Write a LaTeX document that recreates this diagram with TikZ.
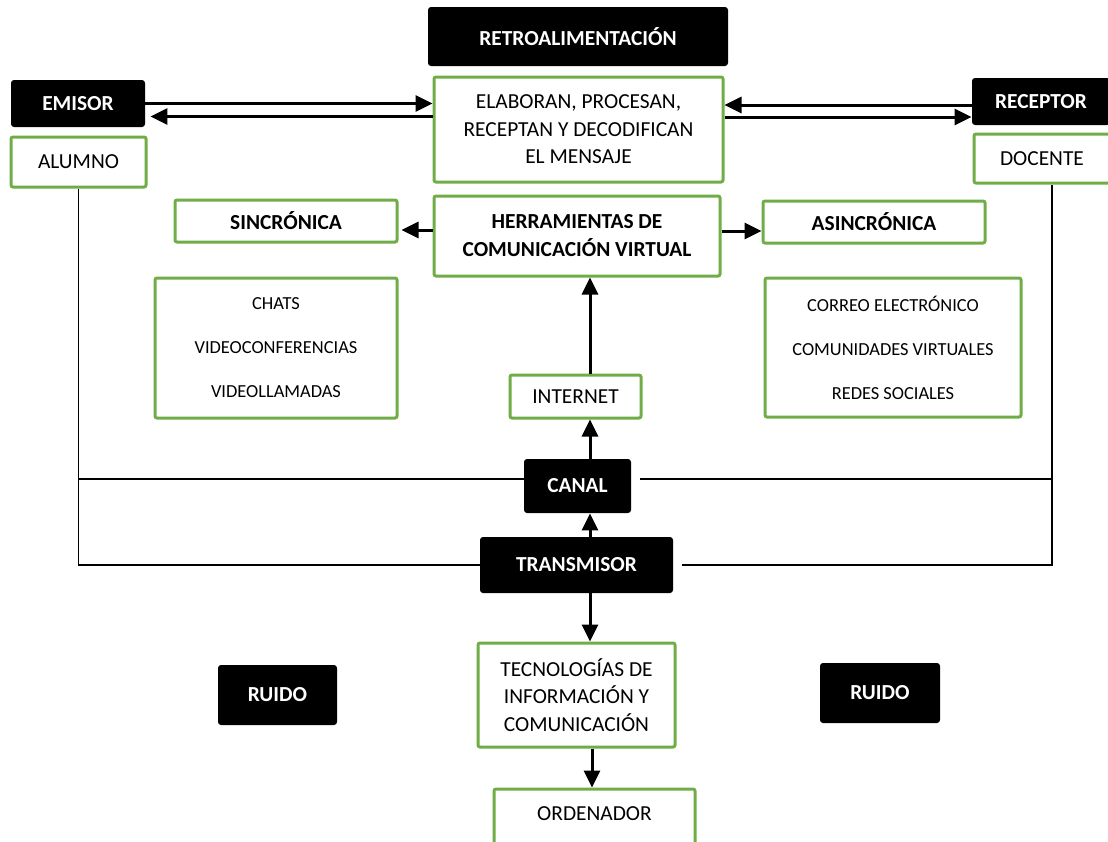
\documentclass[tikz,border=0pt]{standalone}
\usepackage{fontspec}
\setmainfont{Carlito}
\usetikzlibrary{arrows.meta}
\definecolor{boxgreen}{RGB}{112,173,71}
\tikzset{
  darkbox/.style={fill=black, text=white, rounded corners=1.5pt, inner sep=0pt, align=center,
    font=\fontsize{10.7}{14}\selectfont\bfseries},
  greenbox/.style={draw=boxgreen, line width=1.5pt, fill=white, rounded corners=1pt, inner sep=0pt,
    align=center, font=\fontsize{10.7}{13.75}\selectfont},
  headbox/.style={greenbox, font=\fontsize{10.7}{14}\selectfont\bfseries},
  listbox/.style={greenbox, font=\fontsize{9.2}{22}\selectfont},
  flow/.style={line width=1.5pt, -{Triangle[length=8.5pt,width=8pt]}},
  wire/.style={line width=0.8pt}
}
\begin{document}
\begin{tikzpicture}[x=0.5pt,y=-0.5pt]
  \useasboundingbox (0,0) rectangle (1108,841);
  \node[darkbox, minimum width=150pt, minimum height=29.5pt] (retro) at (578,36.5) {RETROALIMENTACIÓN};
  \node[greenbox, minimum width=144.5pt, minimum height=52.5pt] (elab) at (578.5,129.5)
    {ELABORAN, PROCESAN,\\RECEPTAN Y DECODIFICAN\\EL MENSAJE};
  \node[headbox, minimum width=143pt, minimum height=40pt] (herr) at (577,236)
    {HERRAMIENTAS DE\\COMUNICACIÓN VIRTUAL};
  \node[darkbox, minimum width=67pt, minimum height=23.5pt] (emisor) at (78,103.5) {EMISOR};
  \node[greenbox, minimum width=67.5pt, minimum height=25pt] (alumno) at (78.5,162) {ALUMNO};
  \node[darkbox, minimum width=69pt, minimum height=23.5pt] (receptor) at (1041,101.5) {RECEPTOR};
  \node[greenbox, minimum width=68pt, minimum height=24.5pt] (docente) at (1042,158.5) {DOCENTE};
  \node[headbox, minimum width=111pt, minimum height=21pt] (sinc) at (286,221) {SINCRÓNICA};
  \node[headbox, minimum width=111pt, minimum height=21pt] (asinc) at (874,222) {ASINCRÓNICA};
  \node[listbox, minimum width=121pt, minimum height=70pt] (listsinc) at (276,348)
    {CHATS\\VIDEOCONFERENCIAS\\VIDEOLLAMADAS};
  \node[listbox, minimum width=128pt, minimum height=69.5pt] (listasinc) at (893,347.5)
    {CORREO ELECTRÓNICO\\COMUNIDADES VIRTUALES\\REDES SOCIALES};
  \node[greenbox, minimum width=65.5pt, minimum height=21.5pt] (internet) at (575.5,396.5) {INTERNET};
  \node[darkbox, minimum width=53.5pt, minimum height=27pt] (canal) at (577.5,486) {CANAL};
  \node[darkbox, minimum width=96.5pt, minimum height=28pt] (trans) at (576.5,565) {TRANSMISOR};
  \node[greenbox, minimum width=98.5pt, minimum height=52pt] (tic) at (576.5,695)
    {TECNOLOGÍAS DE\\INFORMACIÓN Y\\COMUNICACIÓN};
  \node[greenbox, minimum width=100.5pt, minimum height=41pt, text depth=16pt] (orden) at (594.5,830) {ORDENADOR};
  \node[darkbox, minimum width=59.5pt, minimum height=30pt] (ruido1) at (277.5,695) {RUIDO};
  \node[darkbox, minimum width=60pt, minimum height=30pt] (ruido2) at (880,693) {RUIDO};
  \coordinate (rline) at (1052,185);

  \draw[flow] (emisor.east) -- (emisor.east -| elab.west);
  \draw[flow, shorten >=2.5pt] ([yshift=-6.5pt]emisor.east -| elab.west) -- ([yshift=-6.5pt]emisor.east);
  \draw[flow] ([yshift=-1.75pt]receptor.west) -- ([yshift=-1.75pt]receptor.west -| elab.east);
  \draw[flow] ([yshift=-7.75pt]receptor.west -| elab.east) -- ([yshift=-7.75pt]receptor.west);
  \draw[flow, shorten >=1.5pt] ([yshift=3pt]herr.west) -- ([yshift=3pt]herr.west -| sinc.east);
  \draw[flow] ([yshift=2.5pt]herr.east) -- ([yshift=2.5pt]herr.east -| asinc.west);
  \draw[flow] ([xshift=7.25pt]internet.north) -- ([xshift=7.25pt]internet.north |- herr.south);
  \draw[flow] ([xshift=6.25pt]canal.north) -- ([xshift=6.25pt]canal.north |- internet.south);
  \draw[flow] ([xshift=6.75pt]trans.north) -- ([xshift=6.75pt]trans.north |- canal.south);
  \draw[flow] ([xshift=6.75pt]trans.south) -- ([xshift=6.75pt]trans.south |- tic.north);
  \draw[flow] ([xshift=7.75pt]tic.south) -- ([xshift=7.75pt]tic.south |- orden.north);

  \draw[wire] (alumno.south) -- (alumno.south |- trans.west) -- (trans.west);
  \draw[wire] ([yshift=3.5pt]canal.west -| alumno.south) -- ([yshift=3.5pt]canal.west);
  \draw[wire] (rline) -- (rline |- trans.east) -- ([xshift=4.5pt]trans.east);
  \draw[wire] ([xshift=4.5pt,yshift=3.5pt]canal.east) -- ([yshift=3.5pt]canal.east -| rline);
\end{tikzpicture}
\end{document}
